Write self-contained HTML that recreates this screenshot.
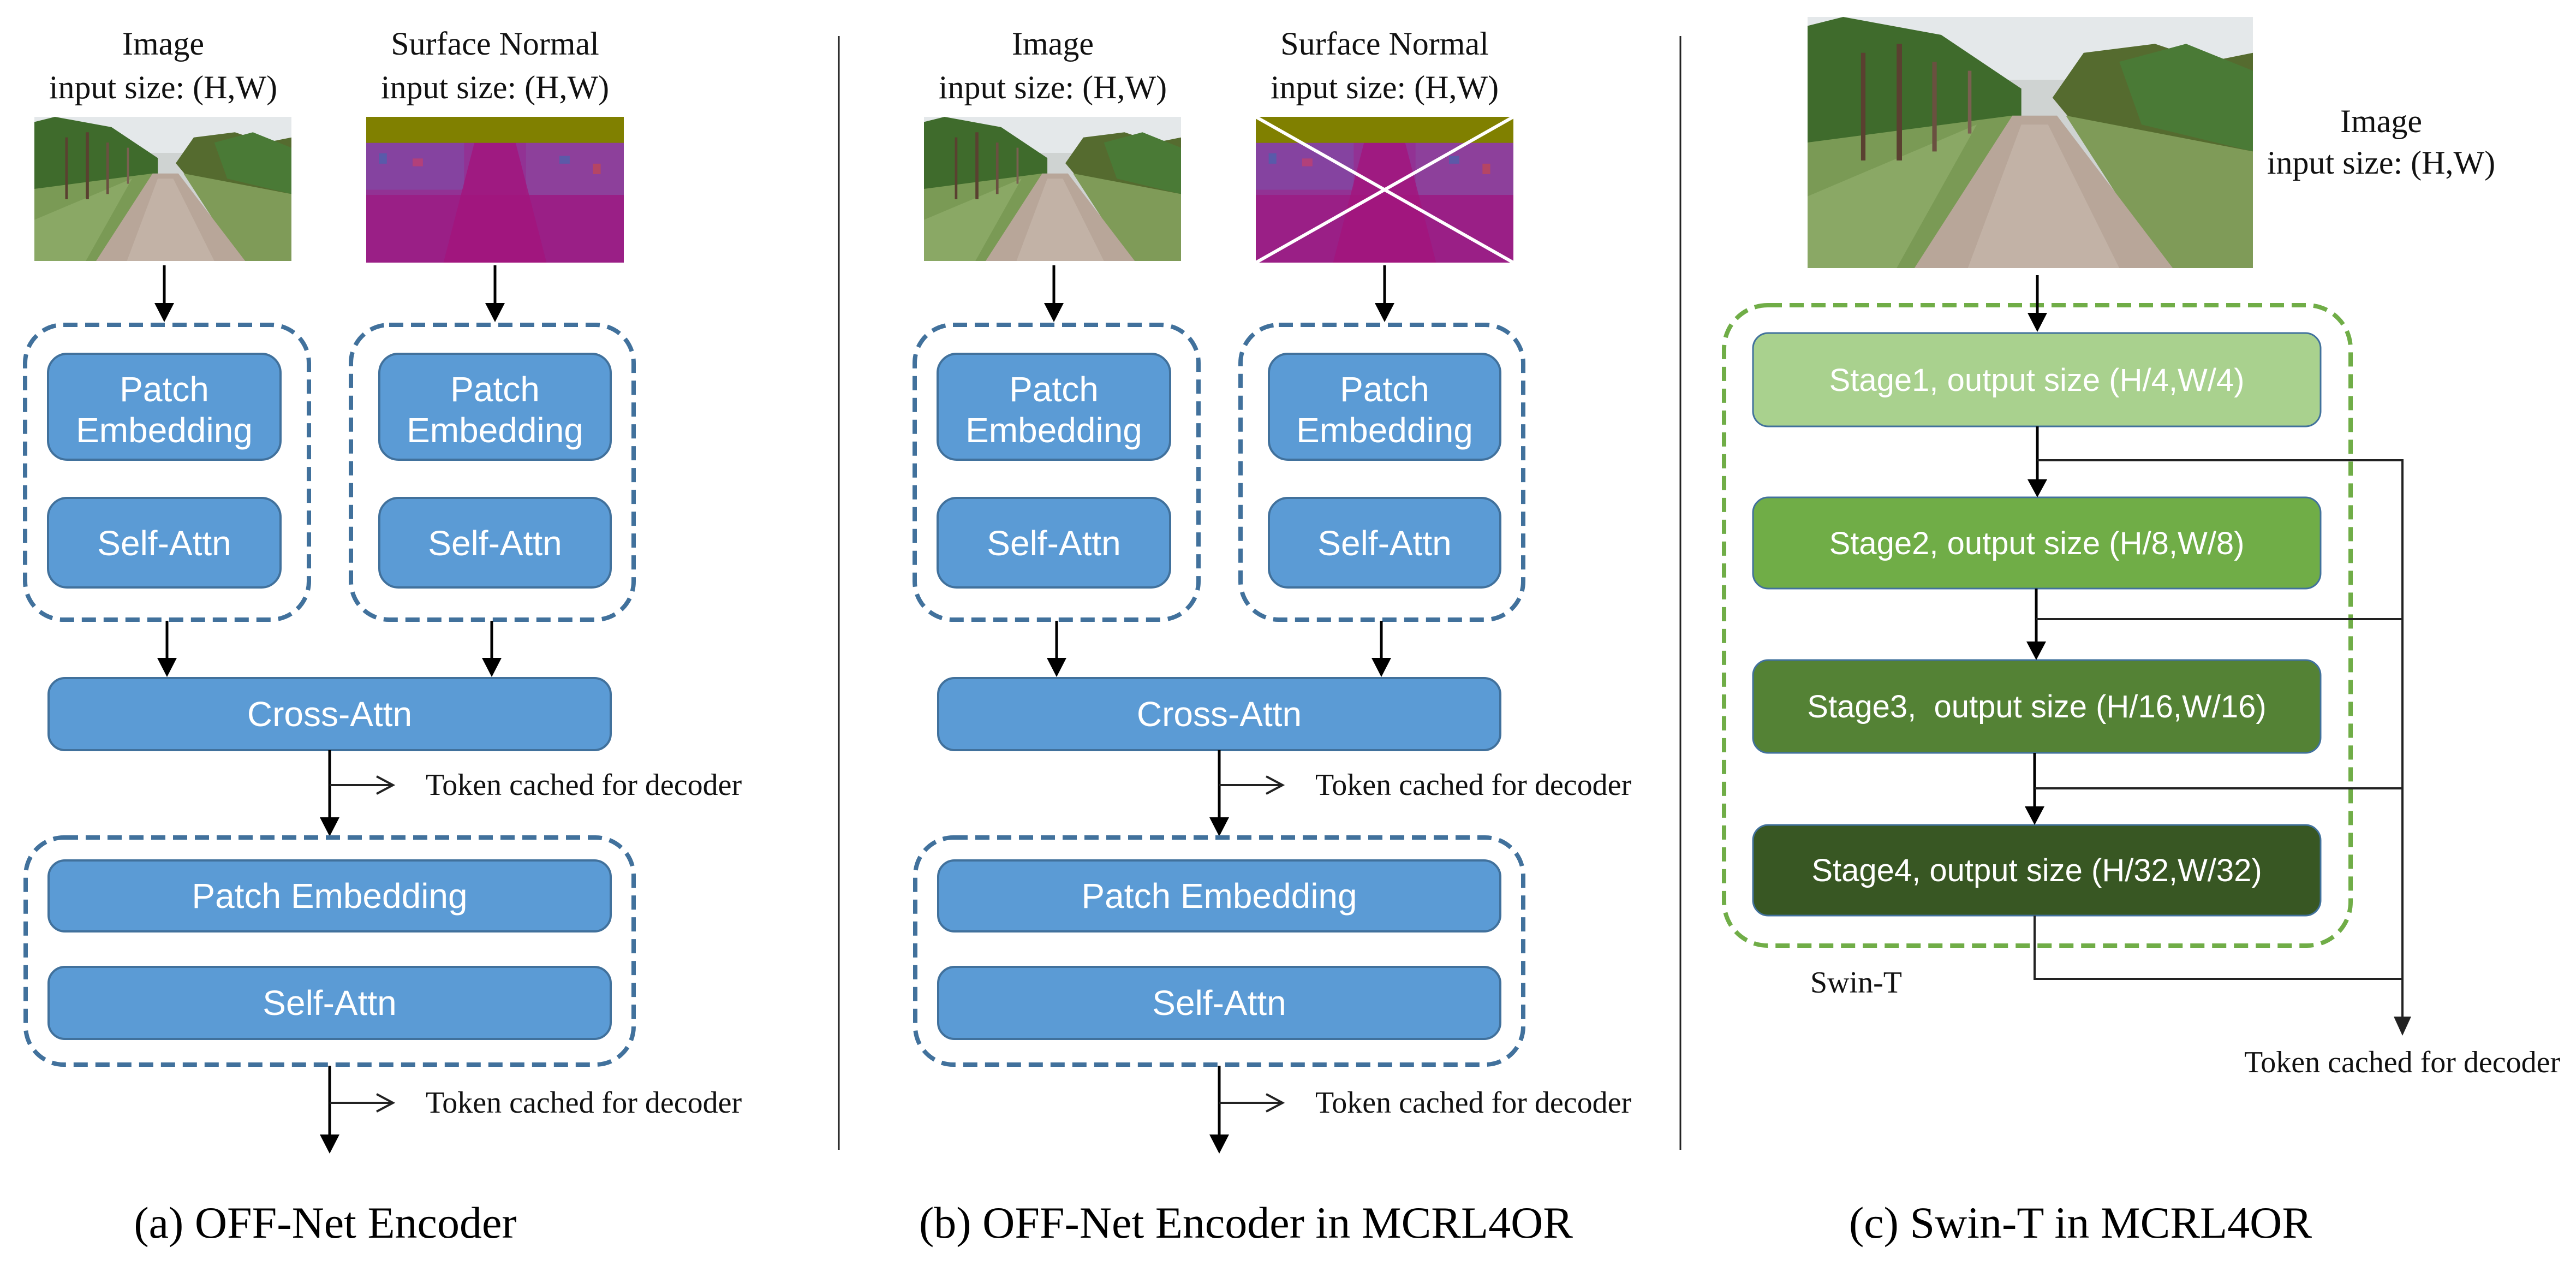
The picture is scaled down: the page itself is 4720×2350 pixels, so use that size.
<!DOCTYPE html>
<html><head><meta charset="utf-8"><style>
html,body{margin:0;padding:0;background:#fff;}
svg{display:block;}
.lbl{font-family:"Liberation Serif",serif;font-size:60px;fill:#111;}
.tok{font-family:"Liberation Serif",serif;font-size:56px;fill:#111;}
.cap{font-family:"Liberation Serif",serif;font-size:82px;fill:#000;}
.bt{font-family:"Liberation Sans",sans-serif;font-size:64px;fill:#fff;}
.st{font-family:"Liberation Sans",sans-serif;font-size:58px;fill:#fff;}
.bx{fill:#5b9bd5;stroke:#41719c;stroke-width:4;}
.db{fill:none;stroke:#41719c;stroke-width:8;stroke-dasharray:26 14;}
.ln{stroke:#000;stroke-width:5;fill:none;}
.ln2{stroke:#222;stroke-width:4;fill:none;}
</style></head><body>
<svg width="4720" height="2350" viewBox="0 0 4720 2350" xmlns="http://www.w3.org/2000/svg">
<defs>
<symbol id="photo" viewBox="0 0 100 56" preserveAspectRatio="none">
  <rect x="0" y="0" width="100" height="56" fill="#cfd3d2"/>
  <rect x="0" y="0" width="100" height="14" fill="#e4e8ea"/>
  <polygon points="0,2 8,0 30,4 48,16 48,24 0,36" fill="#3f6b2c"/>
  <polygon points="55,18 62,8 78,6 90,10 100,8 100,34 60,24" fill="#556b2f"/>
  <polygon points="70,10 85,6 100,12 100,30 75,24" fill="#4a7a36"/>
  <polygon points="0,28 46,22 30,56 0,56" fill="#7a9a55"/>
  <polygon points="0,40 38,24 20,56 0,56" fill="#8aa865"/>
  <polygon points="58,22 100,30 100,56 80,56" fill="#7f9b58"/>
  <polygon points="46,22 56,22 82,56 24,56" fill="#b8a699"/>
  <polygon points="48,24 54,24 70,56 36,56" fill="#c2b2a6"/>
  <rect x="20" y="6" width="1.2" height="26" fill="#5a4030"/>
  <rect x="28" y="10" width="1" height="20" fill="#6a5040"/>
  <rect x="12" y="8" width="1" height="24" fill="#5a4030"/>
  <rect x="36" y="12" width="0.8" height="14" fill="#7a6050"/>
</symbol>
<symbol id="normal" viewBox="0 0 100 56" preserveAspectRatio="none">
  <rect x="0" y="0" width="100" height="56" fill="#9a1f86"/>
  <rect x="0" y="10" width="100" height="20" fill="#8f3a9a" opacity="0.7"/>
  <rect x="0" y="10" width="38" height="18" fill="#7d4fa8" opacity="0.6"/>
  <rect x="62" y="10" width="38" height="20" fill="#8a4aa0" opacity="0.6"/>
  <polygon points="42,10 58,10 70,56 30,56" fill="#a3147c" opacity="0.8"/>
  <rect x="5" y="14" width="3" height="4" fill="#3c6bb0" opacity="0.6"/>
  <rect x="18" y="16" width="4" height="3" fill="#d04060" opacity="0.6"/>
  <rect x="75" y="15" width="4" height="3" fill="#3c6bb0" opacity="0.6"/>
  <rect x="88" y="18" width="3" height="4" fill="#d04a40" opacity="0.6"/>
  <rect x="0" y="0" width="100" height="10" fill="#808000"/>
</symbol>
</defs>

<line x1="1537" y1="66" x2="1537" y2="2106" stroke="#222" stroke-width="3"/>
<line x1="3079" y1="66" x2="3079" y2="2106" stroke="#222" stroke-width="3"/>

<g id="pa">
  <text class="lbl" x="299" y="100" text-anchor="middle">Image</text>
  <text class="lbl" x="299" y="180" text-anchor="middle">input size: (H,W)</text>
  <text class="lbl" x="907" y="100" text-anchor="middle">Surface Normal</text>
  <text class="lbl" x="907" y="180" text-anchor="middle">input size: (H,W)</text>
  <use href="#photo" x="63" y="214" width="471" height="264"/>
  <use href="#normal" x="671" y="214" width="472" height="267"/>
  <line class="ln" x1="301" y1="486" x2="301" y2="560"/><polygon points="283,555 319,555 301,590"/>
  <line class="ln" x1="907" y1="486" x2="907" y2="560"/><polygon points="889,555 925,555 907,590"/>
  <rect class="db" x="46" y="595" width="520" height="540" rx="70"/>
  <rect class="db" x="643" y="595" width="518" height="540" rx="70"/>
  <rect class="bx" x="88" y="648" width="426" height="194" rx="35"/>
  <text class="bt" x="301" y="735" text-anchor="middle">Patch</text>
  <text class="bt" x="301" y="810" text-anchor="middle">Embedding</text>
  <rect class="bx" x="88" y="912" width="426" height="164" rx="35"/>
  <text class="bt" x="301" y="1017" text-anchor="middle">Self-Attn</text>
  <rect class="bx" x="695" y="648" width="424" height="194" rx="35"/>
  <text class="bt" x="907" y="735" text-anchor="middle">Patch</text>
  <text class="bt" x="907" y="810" text-anchor="middle">Embedding</text>
  <rect class="bx" x="695" y="912" width="424" height="164" rx="35"/>
  <text class="bt" x="907" y="1017" text-anchor="middle">Self-Attn</text>
  <line class="ln" x1="306" y1="1137" x2="306" y2="1212"/><polygon points="288,1205 324,1205 306,1240"/>
  <line class="ln" x1="901" y1="1137" x2="901" y2="1212"/><polygon points="883,1205 919,1205 901,1240"/>
  <rect class="bx" x="89" y="1242" width="1030" height="132" rx="30"/>
  <text class="bt" x="604" y="1330" text-anchor="middle">Cross-Attn</text>
  <line class="ln" x1="604" y1="1374" x2="604" y2="1505"/><polygon points="586,1497 622,1497 604,1532"/>
  <line class="ln2" x1="604" y1="1438" x2="718" y2="1438"/><polyline class="ln2" points="690,1422 720,1438 690,1454"/>
  <text class="tok" x="780" y="1456">Token cached for decoder</text>
  <rect class="db" x="47" y="1534" width="1114" height="416" rx="70"/>
  <rect class="bx" x="89" y="1576" width="1030" height="130" rx="30"/>
  <text class="bt" x="604" y="1663" text-anchor="middle">Patch Embedding</text>
  <rect class="bx" x="89" y="1771" width="1030" height="132" rx="30"/>
  <text class="bt" x="604" y="1859" text-anchor="middle">Self-Attn</text>
  <text class="bt" x="1269" y="1828">× 3</text>
  <line class="ln" x1="604" y1="1952" x2="604" y2="2085"/><polygon points="586,2078 622,2078 604,2113"/>
  <line class="ln2" x1="604" y1="2020" x2="718" y2="2020"/><polyline class="ln2" points="690,2004 720,2020 690,2036"/>
  <text class="tok" x="780" y="2038">Token cached for decoder</text>
</g>
<text class="cap" x="596" y="2267" text-anchor="middle">(a) OFF-Net Encoder</text>

<g transform="translate(1630,0)">
  <use href="#pa"/>
  <line x1="671" y1="214" x2="1143" y2="481" stroke="#fff" stroke-width="6"/>
  <line x1="671" y1="481" x2="1143" y2="214" stroke="#fff" stroke-width="6"/>
</g>
<text class="cap" x="2283" y="2267" text-anchor="middle">(b) OFF-Net Encoder in MCRL4OR</text>

<use href="#photo" x="3312" y="31" width="816" height="460"/>
<text class="lbl" x="4363" y="242" text-anchor="middle">Image</text>
<text class="lbl" x="4363" y="318" text-anchor="middle">input size: (H,W)</text>
<rect x="3159" y="559" width="1148" height="1173" rx="80" fill="none" stroke="#70ad47" stroke-width="8" stroke-dasharray="26 14"/>
<line class="ln" x1="3733" y1="504" x2="3733" y2="580"/><polygon points="3715,573 3751,573 3733,608"/>
<rect x="3212" y="610" width="1040" height="171" rx="28" fill="#a9d18e" stroke="#41719c" stroke-width="3"/>
<text class="st" x="3732" y="716" text-anchor="middle">Stage1, output size (H/4,W/4)</text>
<rect x="3212" y="911" width="1040" height="167" rx="28" fill="#70ad47" stroke="#41719c" stroke-width="3"/>
<text class="st" x="3732" y="1015" text-anchor="middle">Stage2, output size (H/8,W/8)</text>
<rect x="3212" y="1209" width="1040" height="170" rx="28" fill="#548235" stroke="#41719c" stroke-width="3"/>
<text class="st" x="3732" y="1314" text-anchor="middle">Stage3,&#160; output size (H/16,W/16)</text>
<rect x="3212" y="1511" width="1040" height="166" rx="28" fill="#385723" stroke="#41719c" stroke-width="3"/>
<text class="st" x="3732" y="1614" text-anchor="middle">Stage4, output size (H/32,W/32)</text>
<line class="ln" x1="3733" y1="781" x2="3733" y2="885"/><polygon points="3715,878 3751,878 3733,911"/>
<line class="ln" x1="3731" y1="1078" x2="3731" y2="1182"/><polygon points="3713,1175 3749,1175 3731,1209"/>
<line class="ln" x1="3728" y1="1379" x2="3728" y2="1484"/><polygon points="3710,1477 3746,1477 3728,1511"/>
<line class="ln2" x1="3733" y1="843" x2="4402" y2="843"/>
<line class="ln2" x1="3731" y1="1134" x2="4402" y2="1134"/>
<line class="ln2" x1="3728" y1="1444" x2="4402" y2="1444"/>
<polyline class="ln2" points="3728,1677 3728,1793 4402,1793"/>
<line class="ln2" x1="4402" y1="841" x2="4402" y2="1870"/>
<polygon points="4386,1862 4418,1862 4402,1897" fill="#222"/>
<text class="tok" x="3317" y="1818">Swin-T</text>
<text class="tok" x="4112" y="1964">Token cached for decoder</text>
<text class="cap" x="3812" y="2267" text-anchor="middle">(c) Swin-T in MCRL4OR</text>
</svg>
</body></html>
